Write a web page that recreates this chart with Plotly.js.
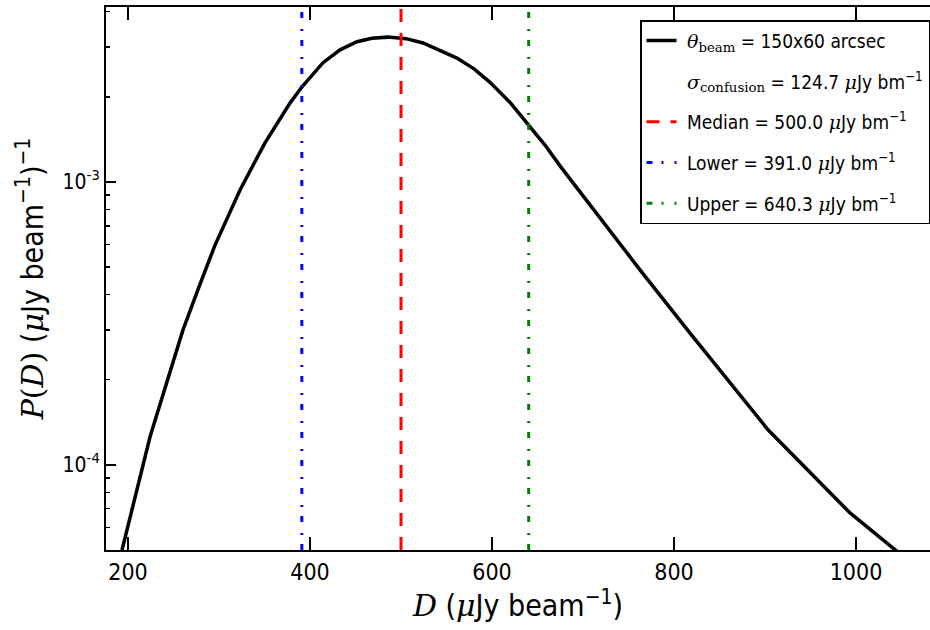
<!DOCTYPE html>
<html>
<head>
<meta charset="utf-8">
<script src="https://cdn.plot.ly/plotly-3.0.1.min.js"></script>
<style>body{margin:0;padding:0;background:#fff;} #chart{width:930px;height:630px;}</style>
</head>
<body>
<div id="chart"></div>
<script>
// ---- data ----
const dVals = [186, 193.4, 224.2, 241.8, 260.4, 278, 295.6, 323.1, 350.5, 378, 391.2, 414.3, 433, 451.6, 468, 485.7, 505.5, 524.2, 542.9, 561.5, 580.2, 597.8, 619.8, 639.6, 658.2, 674.7, 718.7, 762.6, 817.6, 850.5, 903.3, 993.4, 1040.7, 1050];
const pVals = [4.1e-5, 5.0e-5, 1.256e-4, 1.92e-4, 3.00e-4, 4.26e-4, 5.98e-4, 9.37e-4, 1.375e-3, 1.90e-3, 2.17e-3, 2.64e-3, 2.93e-3, 3.13e-3, 3.22e-3, 3.25e-3, 3.21e-3, 3.10e-3, 2.92e-3, 2.74e-3, 2.51e-3, 2.25e-3, 1.91e-3, 1.60e-3, 1.35e-3, 1.14e-3, 7.47e-4, 4.89e-4, 2.92e-4, 2.15e-4, 1.33e-4, 6.76e-5, 5.05e-5, 4.8e-5];
const beamSize = "150x60";
const sigmaConfusion = 124.7;
const medianVal = 500.0;
const lowerVal = 391.0;
const upperVal = 640.3;
const xTickVals = [200, 400, 600, 800, 1000];
const yTickVals = [1e-4, 1e-3];
const yTickText = ["10<sup>-4</sup>", "10<sup>-3</sup>"];

// ---- layout constants ----
const xRange = [175.8, 1081.3];
const yLogRange = [-4.301, -2.3816];
const yLo = Math.pow(10, yLogRange[0]);
const yHi = Math.pow(10, yLogRange[1]);

const SANS = "DejaVu Sans Condensed, Liberation Sans Narrow, DejaVu Sans, sans-serif";
const serifI = (t) => '<span style="font-family:DejaVu Serif"><i>' + t + '</i></span>';
const serif = (t) => '<span style="font-family:DejaVu Serif">' + t + '</span>';
const unit = serifI('μ') + 'Jy bm<sup>−1</sup>';
const pad = '\u00a0';

const traces = [
  {
    x: dVals, y: pVals, mode: 'lines', type: 'scatter',
    line: {color: 'black', width: 3.5},
    name: pad + serifI('θ') + '<sub>' + serif('beam') + '</sub> = ' + beamSize + ' arcsec',
    legendgroup: 'a'
  },
  {
    x: [null], y: [null], mode: 'lines', type: 'scatter',
    line: {color: 'rgba(0,0,0,0)', width: 0},
    name: pad + serifI('σ') + '<sub>' + serif('confusion') + '</sub> = ' + sigmaConfusion.toFixed(1) + ' ' + unit,
    legendgroup: 'b'
  },
  {
    x: [medianVal, medianVal], y: [yLo, yHi], mode: 'lines', type: 'scatter',
    line: {color: 'rgb(255,0,0)', width: 3, dash: '13px,11px'},
    name: pad + 'Median = ' + medianVal.toFixed(1) + ' ' + unit,
    legendgroup: 'c'
  },
  {
    x: [lowerVal, lowerVal], y: [yLo, yHi], mode: 'lines', type: 'scatter',
    line: {color: 'rgb(0,0,255)', width: 3, dash: '6px,9px,2px,11px'},
    name: pad + 'Lower = ' + lowerVal.toFixed(1) + ' ' + unit,
    legendgroup: 'd'
  },
  {
    x: [upperVal, upperVal], y: [yLo, yHi], mode: 'lines', type: 'scatter',
    line: {color: 'rgb(0,128,0)', width: 3, dash: '6px,9px,2px,11px'},
    name: pad + 'Upper = ' + upperVal.toFixed(1) + ' ' + unit,
    legendgroup: 'e'
  }
];

const layout = {
  width: 930, height: 630,
  margin: {l: 106, r: 0, t: 7, b: 80, pad: 0},
  paper_bgcolor: 'white', plot_bgcolor: 'white',
  font: {family: SANS, size: 20, color: 'black'},
  showlegend: true,
  legend: {
    x: 1, y: 0.976, xanchor: 'right', yanchor: 'top',
    bgcolor: 'white', bordercolor: 'black', borderwidth: 1.5,
    font: {family: SANS, size: 19, color: 'black'},
    tracegroupgap: 13, traceorder: 'grouped'
  },
  xaxis: {
    type: 'linear', range: xRange,
    tickmode: 'array', tickvals: xTickVals,
    ticks: 'inside', ticklen: 13, tickwidth: 1.5, tickcolor: 'black',
    showline: true, linecolor: 'black', linewidth: 2, mirror: 'allticks',
    showgrid: false, zeroline: false,
    tickfont: {family: SANS, size: 23, color: 'black'},
    title: {text: serifI('D') + ' (' + serifI('μ') + 'Jy beam<sup>−1</sup>)', font: {family: SANS, size: 30, color: 'black'}, standoff: 6}
  },
  yaxis: {
    type: 'log', range: yLogRange,
    tickmode: 'array', tickvals: yTickVals, ticktext: yTickText,
    ticks: 'inside', ticklen: 10, tickwidth: 1.5, tickcolor: 'black',
    minor: {ticks: 'inside', ticklen: 4, tickwidth: 1.5, tickcolor: 'black', dtick: 'D1', showgrid: false},
    showline: true, linecolor: 'black', linewidth: 2, mirror: false,
    showgrid: false, zeroline: false,
    tickfont: {family: SANS, size: 21, color: 'black'},
    title: {text: serifI('P') + serif('(') + serifI('D') + serif(')') + ' (' + serifI('μ') + 'Jy beam<sup>−1</sup>)<sup>−1</sup>', font: {family: SANS, size: 30, color: 'black'}, standoff: 10}
  }
};

Plotly.newPlot('chart', traces, layout, {displayModeBar: false, staticPlot: true});
</script>
</body>
</html>
